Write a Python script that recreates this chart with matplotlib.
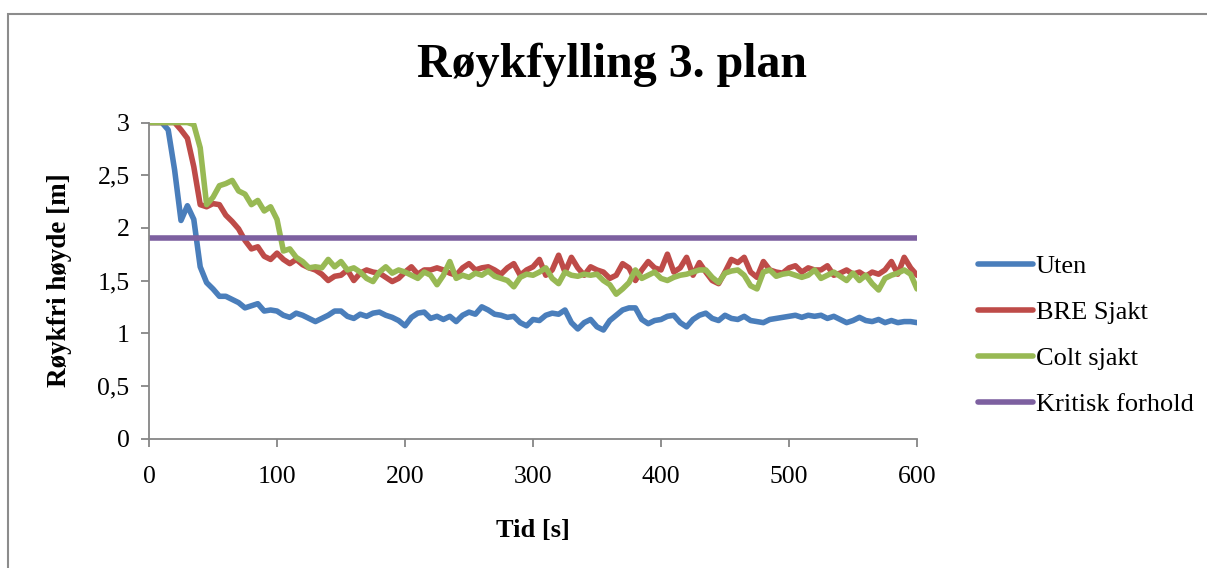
import numpy as np
import matplotlib
matplotlib.use("Agg")
import matplotlib.pyplot as plt
from matplotlib.ticker import FuncFormatter, MultipleLocator
from matplotlib.patches import Rectangle

# Time axis (seconds), sampled every 5 s
tid = np.arange(0, 601, 5)

uten = [
    3.00, 3.00, 3.00, 2.93, 2.55, 2.07, 2.21, 2.08, 1.63, 1.48,
    1.42, 1.35, 1.35, 1.32, 1.29, 1.24, 1.26, 1.28, 1.21, 1.22,
    1.21, 1.17, 1.15, 1.19, 1.17, 1.14, 1.11, 1.14, 1.17, 1.21,
    1.21, 1.16, 1.14, 1.18, 1.16, 1.19, 1.20, 1.17, 1.15, 1.12,
    1.07, 1.15, 1.19, 1.20, 1.14, 1.16, 1.13, 1.16, 1.11, 1.17,
    1.20, 1.18, 1.25, 1.22, 1.18, 1.17, 1.15, 1.16, 1.10, 1.07,
    1.13, 1.12, 1.17, 1.19, 1.18, 1.22, 1.10, 1.04, 1.10, 1.13,
    1.06, 1.03, 1.12, 1.17, 1.22, 1.24, 1.24, 1.13, 1.09, 1.12,
    1.13, 1.16, 1.17, 1.10, 1.06, 1.13, 1.17, 1.19, 1.14, 1.12,
    1.17, 1.14, 1.13, 1.16, 1.12, 1.11, 1.10, 1.13, 1.14, 1.15,
    1.16, 1.17, 1.15, 1.17, 1.16, 1.17, 1.14, 1.16, 1.13, 1.10,
    1.12, 1.15, 1.12, 1.11, 1.13, 1.10, 1.12, 1.10, 1.11, 1.11,
    1.10,
]

bre_sjakt = [
    3.00, 3.00, 3.00, 3.00, 3.00, 2.93, 2.85, 2.58, 2.22, 2.20,
    2.23, 2.22, 2.12, 2.06, 1.99, 1.88, 1.80, 1.82, 1.73, 1.70,
    1.76, 1.70, 1.66, 1.70, 1.65, 1.62, 1.60, 1.56, 1.50, 1.54,
    1.55, 1.60, 1.50, 1.57, 1.60, 1.58, 1.57, 1.53, 1.49, 1.52,
    1.58, 1.63, 1.56, 1.60, 1.60, 1.62, 1.60, 1.57, 1.55, 1.62,
    1.66, 1.60, 1.62, 1.63, 1.60, 1.56, 1.62, 1.66, 1.55, 1.60,
    1.63, 1.70, 1.55, 1.60, 1.74, 1.58, 1.72, 1.62, 1.55, 1.63,
    1.60, 1.58, 1.52, 1.55, 1.66, 1.62, 1.50, 1.60, 1.68, 1.62,
    1.60, 1.75, 1.58, 1.62, 1.72, 1.55, 1.67, 1.58, 1.50, 1.47,
    1.58, 1.70, 1.67, 1.72, 1.58, 1.53, 1.68, 1.60, 1.58, 1.57,
    1.62, 1.64, 1.58, 1.62, 1.60, 1.60, 1.64, 1.55, 1.57, 1.60,
    1.56, 1.58, 1.54, 1.58, 1.56, 1.60, 1.68, 1.56, 1.72, 1.62,
    1.55,
]

colt_sjakt = [
    3.00, 3.00, 3.00, 3.00, 3.00, 3.00, 3.00, 2.98, 2.76, 2.22,
    2.29, 2.40, 2.42, 2.45, 2.35, 2.32, 2.22, 2.26, 2.16, 2.20,
    2.08, 1.78, 1.80, 1.72, 1.68, 1.62, 1.63, 1.62, 1.70, 1.63,
    1.68, 1.60, 1.62, 1.58, 1.52, 1.49, 1.58, 1.63, 1.57, 1.60,
    1.58, 1.55, 1.52, 1.58, 1.55, 1.46, 1.55, 1.68, 1.52, 1.55,
    1.53, 1.57, 1.55, 1.59, 1.54, 1.52, 1.50, 1.44, 1.53, 1.56,
    1.55, 1.58, 1.62, 1.52, 1.47, 1.58, 1.55, 1.54, 1.56, 1.55,
    1.56, 1.50, 1.46, 1.37, 1.42, 1.48, 1.60, 1.52, 1.55, 1.58,
    1.52, 1.50, 1.53, 1.55, 1.56, 1.58, 1.60, 1.60, 1.53, 1.48,
    1.57, 1.59, 1.60, 1.55, 1.45, 1.42, 1.58, 1.60, 1.54, 1.56,
    1.57, 1.55, 1.53, 1.55, 1.60, 1.52, 1.55, 1.58, 1.54, 1.50,
    1.57, 1.50, 1.55, 1.47, 1.41, 1.52, 1.55, 1.57, 1.60, 1.56,
    1.42,
]

kritisk_tid = [0, 600]
kritisk_forhold = [1.9, 1.9]

serier = [
    ("Uten", tid, uten, "#4A7EBB"),
    ("BRE Sjakt", tid, bre_sjakt, "#BE4B48"),
    ("Colt sjakt", tid, colt_sjakt, "#98B954"),
    ("Kritisk forhold", kritisk_tid, kritisk_forhold, "#7D60A0"),
]

serif = ["Liberation Serif", "DejaVu Serif"]
plt.rcParams["font.family"] = serif

fig = plt.figure(figsize=(12.07, 5.68), dpi=100)
ax = fig.add_axes([149 / 1207, 1 - 438.5 / 568, 768 / 1207, 316 / 568])

for navn, x, y, farge in serier:
    ax.plot(x, y, color=farge, lw=4.0, solid_joinstyle="round",
            solid_capstyle="round", label=navn)

ax.set_xlim(0, 600)
ax.set_ylim(0, 3)
ax.xaxis.set_major_locator(MultipleLocator(100))
ax.yaxis.set_major_locator(MultipleLocator(0.5))
ax.yaxis.set_major_formatter(
    FuncFormatter(lambda v, _: f"{v:g}".replace(".", ",")))

akse_farge = "#868686"
for side in ("top", "right"):
    ax.spines[side].set_visible(False)
for side in ("left", "bottom"):
    ax.spines[side].set_color(akse_farge)
    ax.spines[side].set_linewidth(1.3)
ax.tick_params(axis="both", direction="out", length=6, width=1.3,
               color=akse_farge, labelsize=18.5, labelcolor="black")
ax.tick_params(axis="x", pad=14)
ax.tick_params(axis="y", pad=8)

ax.set_xlabel("Tid [s]", fontsize=19, fontweight="bold", labelpad=22)
ax.set_ylabel("Røykfri høyde [m]", fontsize=19.5, fontweight="bold",
              labelpad=18)

fig.text(612 / 1207, 1 - 65 / 568, "Røykfylling 3. plan", fontsize=34.5,
         fontweight="bold", ha="center", va="center")

leg = ax.legend(loc="center left", bbox_to_anchor=(1.048, 0.327),
                frameon=False, fontsize=19, handlelength=2.1,
                handletextpad=0.1, labelspacing=0.85)

# Chart area outline
fig.patches.append(Rectangle((8 / 1207, -0.2), 1.2, 1.2 - 13.5 / 568,
                             transform=fig.transFigure, fill=False,
                             edgecolor="#8c8c8c", lw=1.5))

fig.savefig("out.png", dpi=100)
